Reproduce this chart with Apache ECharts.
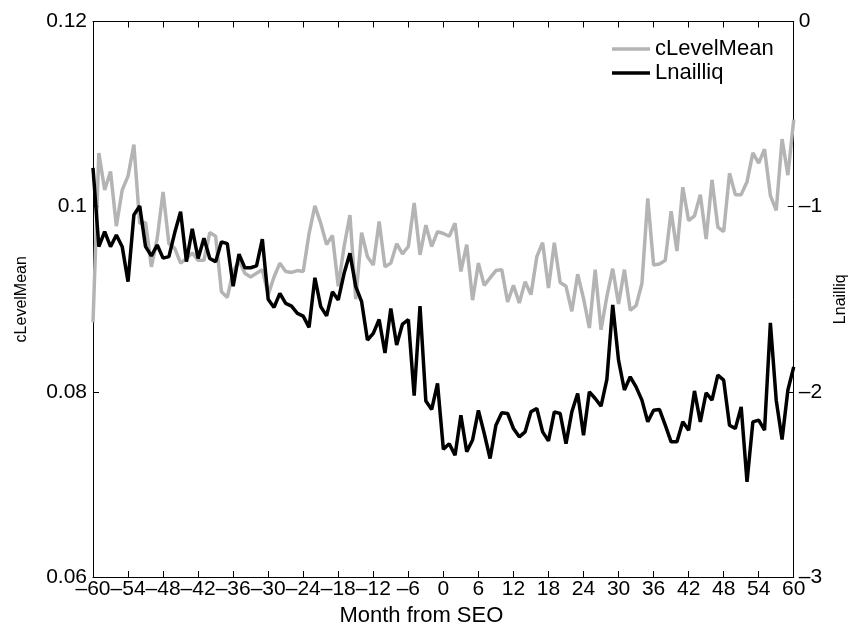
<!DOCTYPE html>
<html><head><meta charset="utf-8">
<script src="https://cdn.jsdelivr.net/npm/echarts@6/dist/echarts.min.js"></script>
<style>html,body{margin:0;padding:0;background:#fff}#c{width:857px;height:633px}</style>
</head><body><div id="c"></div>
<script>
const months = [];
for (let m = -60; m <= 60; m++) months.push(m);
const xTicks = [-60,-54,-48,-42,-36,-30,-24,-18,-12,-6,0,6,12,18,24,30,36,42,48,54,60];
const leftTicks = [0.06, 0.08, 0.1, 0.12];
const rightTicks = [-3, -2, -1, 0];

const cLevelMean = [
0.0875,0.1058,0.1018,0.1038,0.0979,0.1018,0.1033,0.1067,0.0982,0.0983,
0.0935,0.0966,0.1016,0.0960,0.0955,0.0939,0.0944,0.0950,0.0942,0.0942,
0.0972,0.0968,0.0908,0.0902,0.0930,0.0942,0.0928,0.0924,0.0928,0.0932,
0.0905,0.0924,0.0939,0.0930,0.0929,0.0931,0.0930,0.0971,0.1001,0.0982,
0.0959,0.0969,0.0914,0.0957,0.0991,0.0900,0.0972,0.0946,0.0937,0.0984,
0.0935,0.0939,0.0960,0.0949,0.0957,0.1004,0.0948,0.0980,0.0957,0.0973,
0.0971,0.0968,0.0982,0.0930,0.0959,0.0899,0.0939,0.0915,0.0923,0.0931,
0.0932,0.0897,0.0915,0.0896,0.0919,0.0905,0.0946,0.0961,0.0912,0.0961,
0.0918,0.0914,0.0887,0.0927,0.0901,0.0869,0.0932,0.0867,0.0903,0.0933,
0.0895,0.0932,0.0888,0.0893,0.0917,0.1009,0.0937,0.0938,0.0942,0.0995,
0.0952,0.1021,0.0985,0.0990,0.1013,0.0965,0.1029,0.0978,0.0973,0.1036,
0.1013,0.1013,0.1027,0.1058,0.1047,0.1062,0.1012,0.0996,0.1073,0.1034,
0.1094];

const Lnailliq = [
-0.79,-1.216,-1.135,-1.216,-1.153,-1.216,-1.405,-1.045,-0.996,-1.216,
-1.266,-1.207,-1.278,-1.27,-1.14,-1.027,-1.297,-1.12,-1.28,-1.17,
-1.28,-1.297,-1.19,-1.20,-1.43,-1.256,-1.33,-1.33,-1.32,-1.175,
-1.50,-1.544,-1.468,-1.522,-1.537,-1.576,-1.591,-1.652,-1.384,-1.54,
-1.59,-1.46,-1.504,-1.36,-1.252,-1.432,-1.513,-1.72,-1.684,-1.609,
-1.79,-1.55,-1.747,-1.634,-1.61,-2.02,-1.537,-2.05,-2.095,-1.955,
-2.31,-2.28,-2.342,-2.126,-2.324,-2.26,-2.10,-2.225,-2.36,-2.18,
-2.113,-2.117,-2.198,-2.243,-2.216,-2.108,-2.09,-2.216,-2.265,-2.108,
-2.117,-2.28,-2.108,-2.009,-2.234,-2.0,-2.036,-2.077,-1.933,-1.531,
-1.83,-1.99,-1.919,-1.973,-2.045,-2.162,-2.099,-2.095,-2.18,-2.27,
-2.27,-2.162,-2.207,-1.995,-2.162,-2.005,-2.045,-1.91,-1.937,-2.18,
-2.198,-2.081,-2.486,-2.162,-2.153,-2.207,-1.627,-2.045,-2.257,-1.99,
-1.865];

const FONT = 'Liberation Sans';
const minus = v => String(v).replace('-', '\u2012');

const chart = echarts.init(document.getElementById('c'), null, {renderer: 'canvas'});
const axisLine = {show: true, onZero: false, lineStyle: {color: '#000', width: 1}};
const tick = {show: true, inside: true, length: 6, lineStyle: {color: '#000', width: 1}};
chart.setOption({
  animation: false,
  backgroundColor: '#fff',
  grid: {left: 93, right: 62, top: 21.5, bottom: 56, containLabel: false},
  legend: {
    orient: 'vertical', left: 607, top: 32, itemGap: 0,
    icon: 'rect', itemWidth: 38, itemHeight: 3.5,
    textStyle: {fontFamily: FONT, fontSize: 22, color: '#000', lineHeight: 24},
    data: ['cLevelMean', 'Lnailliq']
  },
  xAxis: [{
    type: 'value', min: xTicks[0], max: xTicks[xTicks.length - 1], interval: 6,
    name: 'Month from SEO', nameLocation: 'middle', nameGap: 20,
    nameTextStyle: {fontFamily: FONT, fontSize: 22, color: '#000', verticalAlign: 'top', padding: [0, 44, 0, 0]},
    axisLine: axisLine, axisTick: tick, splitLine: {show: false},
    axisLabel: {fontFamily: FONT, fontSize: 21, color: '#000', margin: 2, formatter: minus, hideOverlap: false}
  }, {
    type: 'value', position: 'top', min: -60, max: 60, interval: 6,
    axisLine: axisLine, axisTick: tick, axisLabel: {show: false}, splitLine: {show: false}
  }],
  yAxis: [{
    type: 'value', min: leftTicks[0], max: leftTicks[leftTicks.length - 1], interval: 0.02,
    name: 'cLevelMean', nameLocation: 'middle', nameGap: 63, nameRotate: 90,
    nameTextStyle: {fontFamily: FONT, fontSize: 16, color: '#000'},
    axisLine: axisLine, axisTick: tick, splitLine: {show: false},
    axisLabel: {fontFamily: FONT, fontSize: 21, color: '#000', margin: 6}
  }, {
    type: 'value', position: 'right', min: rightTicks[0], max: rightTicks[rightTicks.length - 1], interval: 1,
    name: 'Lnailliq', nameLocation: 'middle', nameGap: 37, nameRotate: 90,
    nameTextStyle: {fontFamily: FONT, fontSize: 16, color: '#000'},
    axisLine: axisLine, axisTick: tick, splitLine: {show: false},
    axisLabel: {fontFamily: FONT, fontSize: 21, color: '#000', margin: 5, formatter: minus}
  }],
  series: [{
    name: 'cLevelMean', type: 'line', yAxisIndex: 0, xAxisIndex: 0,
    symbol: 'none', color: '#b4b4b4',
    lineStyle: {color: '#b4b4b4', width: 3.5},
    data: months.map((m, i) => [m, cLevelMean[i]])
  }, {
    name: 'Lnailliq', type: 'line', yAxisIndex: 1, xAxisIndex: 0,
    symbol: 'none', color: '#000',
    lineStyle: {color: '#000', width: 3.5},
    data: months.map((m, i) => [m, Lnailliq[i]])
  }]
});
</script>
</body></html>
